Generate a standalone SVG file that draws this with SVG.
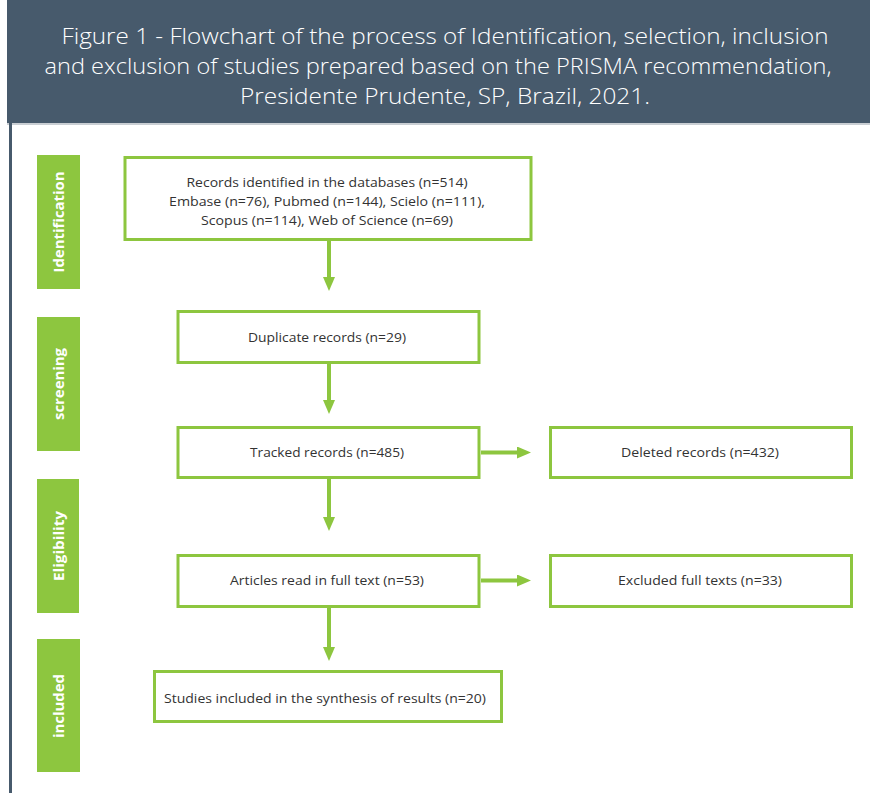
<svg xmlns="http://www.w3.org/2000/svg" width="870" height="793" viewBox="0 0 870 793">
<style>
.title{font-family:"Open Sans","Noto Sans",sans-serif;font-size:22px;fill:#ffffff;text-anchor:middle;font-weight:300}
.box{fill:#ffffff;stroke:#8dc63f;stroke-width:3}
.btxt{font-family:"Open Sans","Noto Sans",sans-serif;font-size:13.5px;fill:#333333;text-anchor:middle}
.tab{fill:#8dc63f}
.ttxt{font-family:"Open Sans","Noto Sans",sans-serif;font-size:15px;font-weight:bold;fill:#ffffff;text-anchor:middle}
.conn{stroke:#8dc63f;stroke-width:4;fill:none}
</style>
<defs>
<marker id="ah" markerWidth="4" markerHeight="3" refX="0" refY="1.5" orient="auto" markerUnits="strokeWidth">
<path d="M0,0 L3.5,1.5 L0,3 Z" fill="#8dc63f"/>
</marker>
</defs>
<rect x="0" y="0" width="870" height="793" fill="#ffffff"/>
<g id="header">
<rect x="7" y="0" width="863" height="123" fill="#475a6c"/>
<rect x="7" y="123" width="863" height="2" fill="#c9ced3"/>
<rect x="9" y="123" width="3" height="670" fill="#475a6c"/>
<text class="title" x="445" y="44" textLength="767" lengthAdjust="spacingAndGlyphs">Figure 1 - Flowchart of the process of Identification, selection, inclusion</text>
<text class="title" x="438" y="74" textLength="787" lengthAdjust="spacingAndGlyphs">and exclusion of studies prepared based on the PRISMA recommendation,</text>
<text class="title" x="445" y="104" textLength="410" lengthAdjust="spacingAndGlyphs">Presidente Prudente, SP, Brazil, 2021.</text>
</g>
<g id="tab-identification">
<rect class="tab" x="37" y="155" width="43" height="134"/>
<text class="ttxt" transform="translate(64,222) rotate(-90)" textLength="101" lengthAdjust="spacingAndGlyphs">Identification</text>
</g>
<g id="tab-screening">
<rect class="tab" x="37" y="317" width="43" height="134"/>
<text class="ttxt" transform="translate(64,384) rotate(-90)" textLength="72" lengthAdjust="spacingAndGlyphs">screening</text>
</g>
<g id="tab-eligibility">
<rect class="tab" x="37" y="479" width="42" height="134"/>
<text class="ttxt" transform="translate(64,546) rotate(-90)" textLength="70" lengthAdjust="spacingAndGlyphs">Eligibility</text>
</g>
<g id="tab-included">
<rect class="tab" x="37" y="639" width="43" height="133"/>
<text class="ttxt" transform="translate(64,706) rotate(-90)" textLength="64" lengthAdjust="spacingAndGlyphs">included</text>
</g>
<g id="connectors">
<line class="conn" x1="329" y1="241" x2="329" y2="277" marker-end="url(#ah)"/>
<line class="conn" x1="329" y1="364" x2="329" y2="400" marker-end="url(#ah)"/>
<line class="conn" x1="329" y1="479" x2="329" y2="517" marker-end="url(#ah)"/>
<line class="conn" x1="329" y1="608" x2="329" y2="647" marker-end="url(#ah)"/>
<line class="conn" x1="481" y1="452.5" x2="517" y2="452.5" marker-end="url(#ah)"/>
<line class="conn" x1="481" y1="580.5" x2="517" y2="580.5" marker-end="url(#ah)"/>
</g>
<g id="node-records">
<rect class="box" x="125" y="157.5" width="406" height="82"/>
<text class="btxt" x="327" y="187" textLength="281" lengthAdjust="spacingAndGlyphs">Records identified in the databases (n=514)</text>
<text class="btxt" x="327" y="206" textLength="316" lengthAdjust="spacingAndGlyphs">Embase (n=76), Pubmed (n=144), Scielo (n=111),</text>
<text class="btxt" x="327" y="225" textLength="252" lengthAdjust="spacingAndGlyphs">Scopus (n=114), Web of Science (n=69)</text>
</g>
<g id="node-duplicate">
<rect class="box" x="178" y="311.5" width="301" height="51"/>
<text class="btxt" x="327" y="342" textLength="158" lengthAdjust="spacingAndGlyphs">Duplicate records (n=29)</text>
</g>
<g id="node-tracked">
<rect class="box" x="178" y="427.5" width="301" height="50"/>
<text class="btxt" x="327" y="457" textLength="154" lengthAdjust="spacingAndGlyphs">Tracked records (n=485)</text>
</g>
<g id="node-deleted">
<rect class="box" x="550.5" y="427.5" width="301" height="50"/>
<text class="btxt" x="700" y="457" textLength="158" lengthAdjust="spacingAndGlyphs">Deleted records (n=432)</text>
</g>
<g id="node-articles">
<rect class="box" x="178" y="555.5" width="301" height="51"/>
<text class="btxt" x="327" y="585" textLength="194" lengthAdjust="spacingAndGlyphs">Articles read in full text (n=53)</text>
</g>
<g id="node-excluded">
<rect class="box" x="550.5" y="555.5" width="301" height="51"/>
<text class="btxt" x="700" y="585" textLength="164" lengthAdjust="spacingAndGlyphs">Excluded full texts (n=33)</text>
</g>
<g id="node-studies">
<rect class="box" x="154.5" y="671.5" width="347" height="50"/>
<text class="btxt" x="325" y="703" textLength="322" lengthAdjust="spacingAndGlyphs">Studies included in the synthesis of results (n=20)</text>
</g>
</svg>
